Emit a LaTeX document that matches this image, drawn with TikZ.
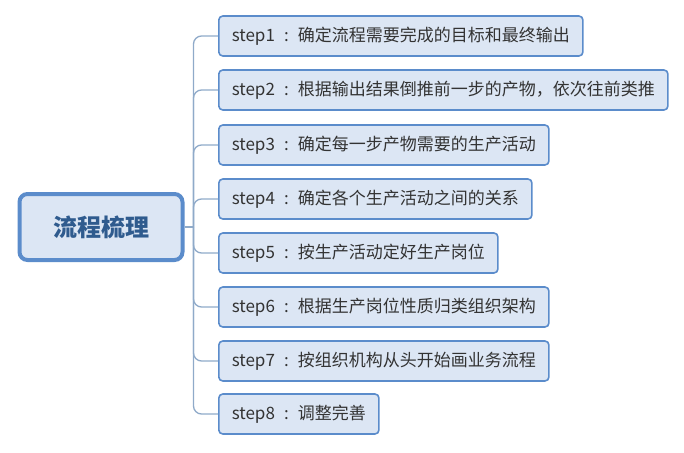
\documentclass[tikz,border=0pt]{standalone}
\usepackage{fontspec}
\setmainfont{Noto Sans CJK SC}
\usepackage{tikz}

\definecolor{boxfill}{HTML}{DCE6F4}
\definecolor{boxline}{HTML}{5B8CCB}
\definecolor{branch}{HTML}{8FAAC9}
\definecolor{maintext}{HTML}{2F5B8E}
\definecolor{steptext}{HTML}{333333}

\newcommand{\colsep}{\makebox[23pt]{:}}

\tikzset{
    stepbox/.style={draw=boxline, fill=boxfill, line width=1.6pt, rounded corners=4pt,
        anchor=west, minimum height=40pt, inner xsep=13pt, text=steptext,
        font=\fontsize{17}{19}\selectfont},
    mainbox/.style={draw=boxline, fill=boxfill, line width=4pt, rounded corners=8pt,
        minimum width=163pt, minimum height=66pt, text=maintext,
        font=\fontsize{24}{27}\selectfont\bfseries},
    link/.style={draw=branch, line width=1.3pt, rounded corners=8pt}
}

\begin{document}
\begin{tikzpicture}[x=1pt, y=-1pt]
    \useasboundingbox (0, 0) rectangle (684, 452);

    % main topic
    \node[mainbox] (main) at (101, 227) {流程梳理};

    % steps
    \node[stepbox] (s1) at (218, 36) {step1\colsep 确定流程需要完成的目标和最终输出};
    \node[stepbox] (s2) at (218, 90) {step2\colsep 根据输出结果倒推前一步的产物，依次往前类推};
    \node[stepbox] (s3) at (218, 145) {step3\colsep 确定每一步产物需要的生产活动};
    \node[stepbox] (s4) at (218, 199) {step4\colsep 确定各个生产活动之间的关系};
    \node[stepbox] (s5) at (218, 253) {step5\colsep 按生产活动定好生产岗位};
    \node[stepbox] (s6) at (218, 307) {step6\colsep 根据生产岗位性质归类组织架构};
    \node[stepbox] (s7) at (218, 361) {step7\colsep 按组织机构从头开始画业务流程};
    \node[stepbox] (s8) at (218, 414) {step8\colsep 调整完善};

    % branches
    \draw[link] (main.east) -- ++(9, 0) coordinate (hub);
    \draw[link] (hub) |- (s1.west);
    \draw[link] (hub) |- (s2.west);
    \draw[link] (hub) |- (s3.west);
    \draw[link] (hub) |- (s4.west);
    \draw[link] (hub) |- (s5.west);
    \draw[link] (hub) |- (s6.west);
    \draw[link] (hub) |- (s7.west);
    \draw[link] (hub) |- (s8.west);
\end{tikzpicture}
\end{document}
